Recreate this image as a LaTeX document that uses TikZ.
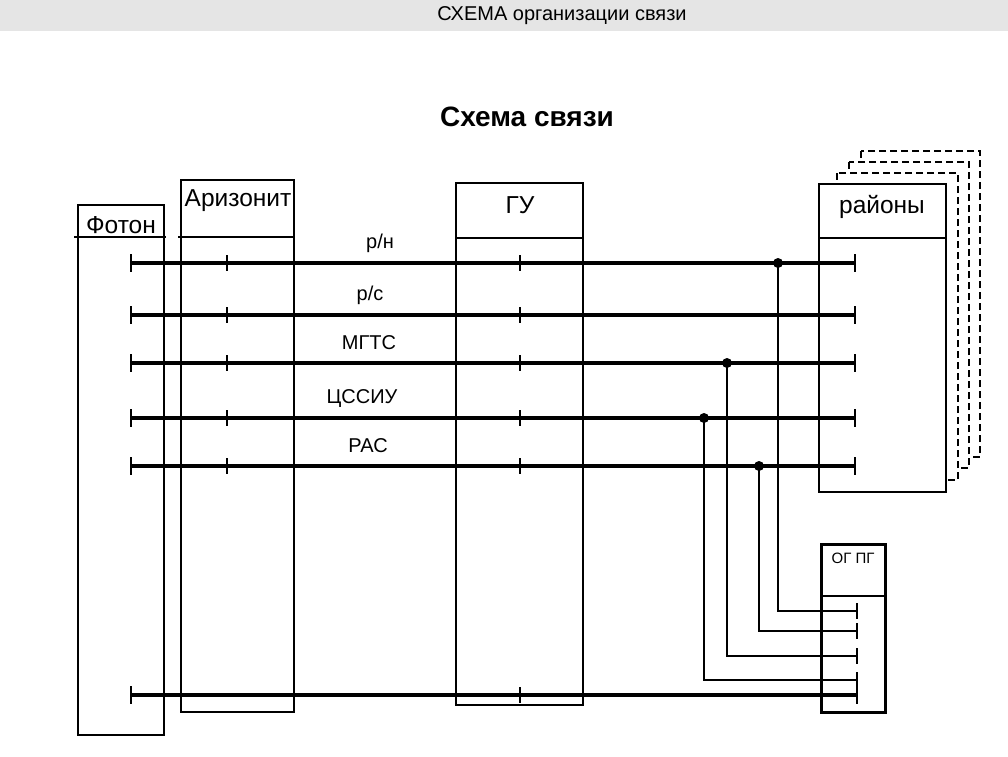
\documentclass[tikz,border=0pt]{standalone}
\usepackage{fontspec}
\setmainfont{Liberation Sans}
\begin{document}
\begin{tikzpicture}[x=1pt,y=-1pt,
 box/.style={draw,line width=2pt,fill=white},
 dbox/.style={draw,line width=2pt,dashed,dash pattern=on 7pt off 4pt,fill=white},
 wire/.style={line width=4pt},
 thin/.style={line width=2.8pt},
 lbl/.style={font=\fontsize{24.5}{28}\selectfont},
 sl/.style={font=\fontsize{20}{22}\selectfont},
 dot/.style={circle,fill=black,inner sep=0pt,minimum size=10pt}]
\useasboundingbox (0,0) rectangle (1008,756);
\fill[black!10] (0,0) rectangle (1008,31);
\node (hdr) at (562,16) {\fontsize{20}{22}\selectfont СХЕМА организации связи};
\node (title) at (527,117) {\fontsize{28}{32}\selectfont\bfseries Схема связи};
% boxes
\draw[box] (78,205) rectangle (164,735);
\draw[line width=2pt] (74,237) -- (166,237);
\node[lbl] (foton) at (121,225) {Фотон};
\draw[box] (181,180) rectangle (294,712);
\draw[line width=2pt] (178,237) -- (294,237);
\node[lbl] (ariz) at (238,201) {Аризонит};
\draw[box] (456,183) rectangle (583,705);
\draw[line width=2pt] (456,238) -- (583,238);
\node[lbl] (gu) at (520,205) {ГУ};
\draw[dbox] (861,151) rectangle (980,457);
\draw[dbox] (849,162) rectangle (969,468);
\draw[dbox] (837,173) rectangle (958,480);
\draw[box] (819,184) rectangle (946,492);
\draw[line width=2pt] (819,238) -- (946,238);
\node[lbl] (rai) at (882,207) {районы};
\draw[box,line width=3pt] (821,544) rectangle (885,712);
\draw[line width=2pt] (821,596) -- (885,596);
\node (og) at (853,558) {\fontsize{15}{17}\selectfont ОГ ПГ};
% wires
\foreach \y/\t/\lx in {263/р\slash н/380,315/р\slash с/370,363/МГТС/369,418/ЦССИУ/362,466/РАС/368}{
  \draw[wire] (131,\y) -- (855,\y);
  \draw[thin] (131,\y-9) -- (131,\y+9);
  \draw[thin] (855,\y-9) -- (855,\y+9);
  \draw[thin] (227,\y-8) -- (227,\y+8);
  \draw[thin] (520,\y-8) -- (520,\y+8);
  \node[sl] at (\lx,\y-20) {\t};
}
\draw[wire] (131,695) -- (857,695);
\draw[thin] (131,686) -- (131,704);
\draw[thin] (520,687) -- (520,703);
\draw[thin] (857,686) -- (857,704);
% branches
\node[dot] (d1) at (778,263) {};
\node[dot] (d2) at (759,466) {};
\node[dot] (d3) at (727,363) {};
\node[dot] (d4) at (704,418) {};
\foreach \n/\x/\y in {d1/778/611,d2/759/631,d3/727/656,d4/704/680}{
  \draw[thin] (\n.center) -- (\x,\y) -- (857,\y);
  \draw[thin] (857,\y-8) -- (857,\y+8);
}
\end{tikzpicture}
\end{document}
